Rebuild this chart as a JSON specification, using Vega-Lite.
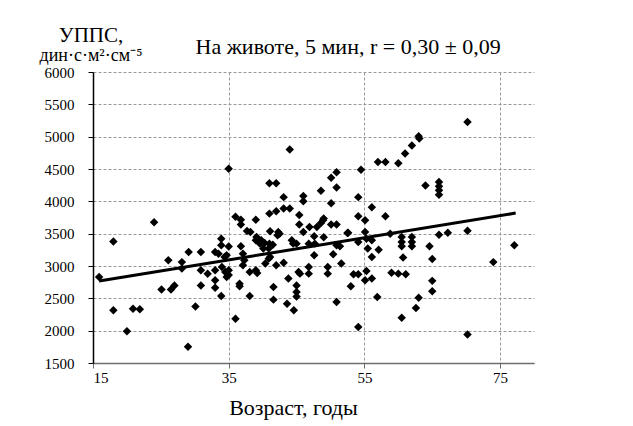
{
  "$schema": "https://vega.github.io/schema/vega-lite/v6.json",
  "width": 441,
  "height": 291,
  "autosize": {"type": "none"},
  "padding": {"left": 93, "top": 72, "right": 99, "bottom": 63},
  "background": "white",
  "config": {
    "font": "Liberation Serif",
    "view": {"stroke": null},
    "axis": {
      "labelFont": "Liberation Serif",
      "titleFont": "Liberation Serif",
      "labelColor": "black",
      "titleColor": "black",
      "titleFontWeight": "normal",
      "gridColor": "#9a9a9a",
      "gridDash": [3, 2],
      "gridWidth": 1,
      "tickColor": "black",
      "tickSize": 5,
      "labelOverlap": false
    }
  },
  "title": {
    "text": "УППС,",
    "subtitle": "дин·с·м²·см⁻⁵",
    "anchor": "start",
    "frame": "group",
    "align": "center",
    "dx": -2,
    "dy": 43,
    "offset": 13,
    "font": "Liberation Serif",
    "fontSize": 21,
    "fontWeight": "normal",
    "color": "black",
    "subtitleFont": "Liberation Serif",
    "subtitleFontSize": 18,
    "subtitleColor": "black",
    "subtitlePadding": 1
  },
  "datasets": {
    "pts": [
      {"age": 15.9, "uppc": 2830}, {"age": 18.0, "uppc": 3380}, {"age": 18.0, "uppc": 2315}, {"age": 20.0, "uppc": 1990},
      {"age": 20.9, "uppc": 2340}, {"age": 21.9, "uppc": 2330}, {"age": 24.0, "uppc": 3675}, {"age": 25.1, "uppc": 2635},
      {"age": 26.1, "uppc": 3090}, {"age": 26.5, "uppc": 2635}, {"age": 27.0, "uppc": 2700}, {"age": 28.1, "uppc": 3060},
      {"age": 28.1, "uppc": 2960}, {"age": 29.0, "uppc": 1750}, {"age": 29.1, "uppc": 3215}, {"age": 30.1, "uppc": 2375},
      {"age": 30.9, "uppc": 3215}, {"age": 30.9, "uppc": 2935}, {"age": 30.9, "uppc": 2700}, {"age": 31.9, "uppc": 2880},
      {"age": 33.0, "uppc": 3215}, {"age": 33.0, "uppc": 2935}, {"age": 33.0, "uppc": 2665}, {"age": 33.0, "uppc": 2780},
      {"age": 33.5, "uppc": 3190}, {"age": 33.9, "uppc": 3420}, {"age": 33.9, "uppc": 3320}, {"age": 33.9, "uppc": 2535},
      {"age": 34.0, "uppc": 2985}, {"age": 34.5, "uppc": 2907}, {"age": 34.7, "uppc": 2830}, {"age": 34.4, "uppc": 3140},
      {"age": 35.0, "uppc": 3300}, {"age": 34.7, "uppc": 3165}, {"age": 35.0, "uppc": 2935}, {"age": 35.0, "uppc": 2860},
      {"age": 35.0, "uppc": 4505}, {"age": 36.0, "uppc": 2185}, {"age": 36.0, "uppc": 3760}, {"age": 36.8, "uppc": 3715},
      {"age": 36.8, "uppc": 3640}, {"age": 36.6, "uppc": 2727}, {"age": 36.6, "uppc": 2686}, {"age": 37.7, "uppc": 3540},
      {"age": 38.1, "uppc": 2536}, {"age": 36.8, "uppc": 3304}, {"age": 37.1, "uppc": 3190}, {"age": 37.1, "uppc": 3010},
      {"age": 37.3, "uppc": 3088}, {"age": 38.1, "uppc": 2907}, {"age": 39.0, "uppc": 2933}, {"age": 39.2, "uppc": 2891},
      {"age": 38.2, "uppc": 3525}, {"age": 39.0, "uppc": 3717}, {"age": 39.0, "uppc": 3397}, {"age": 39.6, "uppc": 3346},
      {"age": 39.1, "uppc": 3450}, {"age": 40.1, "uppc": 3270}, {"age": 40.4, "uppc": 3037}, {"age": 40.9, "uppc": 3114},
      {"age": 41.1, "uppc": 3140}, {"age": 41.0, "uppc": 3346}, {"age": 40.9, "uppc": 3270}, {"age": 41.1, "uppc": 3536},
      {"age": 42.2, "uppc": 3474}, {"age": 42.3, "uppc": 3525}, {"age": 41.0, "uppc": 3810}, {"age": 42.0, "uppc": 3845},
      {"age": 41.0, "uppc": 4280}, {"age": 42.0, "uppc": 4280}, {"age": 43.1, "uppc": 4065}, {"age": 43.1, "uppc": 3890},
      {"age": 44.0, "uppc": 3890}, {"age": 44.0, "uppc": 4800}, {"age": 42.0, "uppc": 3010}, {"age": 43.1, "uppc": 3052},
      {"age": 41.6, "uppc": 2675}, {"age": 41.6, "uppc": 2480}, {"age": 43.8, "uppc": 2805}, {"age": 43.6, "uppc": 2418},
      {"age": 44.6, "uppc": 2315}, {"age": 45.3, "uppc": 2907}, {"age": 45.0, "uppc": 2700}, {"age": 45.0, "uppc": 2598},
      {"age": 45.0, "uppc": 2530}, {"age": 44.3, "uppc": 3397}, {"age": 45.0, "uppc": 3346}, {"age": 45.4, "uppc": 3790},
      {"age": 45.4, "uppc": 3640}, {"age": 46.0, "uppc": 4082}, {"age": 46.0, "uppc": 4000}, {"age": 48.6, "uppc": 4165},
      {"age": 50.1, "uppc": 4366}, {"age": 50.9, "uppc": 4450}, {"age": 50.9, "uppc": 4215}, {"age": 50.1, "uppc": 3970},
      {"age": 46.9, "uppc": 3603}, {"age": 48.0, "uppc": 3603}, {"age": 48.9, "uppc": 3706}, {"age": 48.6, "uppc": 3665},
      {"age": 50.1, "uppc": 3640}, {"age": 50.9, "uppc": 3640}, {"age": 46.0, "uppc": 3525}, {"age": 47.6, "uppc": 3460},
      {"age": 49.0, "uppc": 3445}, {"age": 52.6, "uppc": 3515}, {"age": 55.1, "uppc": 3525}, {"age": 58.8, "uppc": 3500},
      {"age": 54.5, "uppc": 4490}, {"age": 54.1, "uppc": 4065}, {"age": 56.1, "uppc": 3907}, {"age": 58.1, "uppc": 3770},
      {"age": 54.1, "uppc": 3770}, {"age": 55.1, "uppc": 3706}, {"age": 57.0, "uppc": 4608}, {"age": 58.1, "uppc": 4608},
      {"age": 60.0, "uppc": 4590}, {"age": 61.0, "uppc": 4740}, {"age": 62.0, "uppc": 4865}, {"age": 63.0, "uppc": 5005},
      {"age": 63.1, "uppc": 4970}, {"age": 70.2, "uppc": 5225}, {"age": 64.0, "uppc": 4245}, {"age": 66.0, "uppc": 4298},
      {"age": 66.0, "uppc": 4232}, {"age": 66.0, "uppc": 4170}, {"age": 66.0, "uppc": 4103}, {"age": 44.5, "uppc": 3346},
      {"age": 46.8, "uppc": 3346}, {"age": 47.7, "uppc": 3346}, {"age": 52.5, "uppc": 3510}, {"age": 55.3, "uppc": 3423},
      {"age": 54.1, "uppc": 3371}, {"age": 56.1, "uppc": 3397}, {"age": 55.5, "uppc": 3270}, {"age": 57.1, "uppc": 3253},
      {"age": 56.1, "uppc": 3140}, {"age": 60.5, "uppc": 3448}, {"age": 60.5, "uppc": 3371}, {"age": 60.5, "uppc": 3304},
      {"age": 62.0, "uppc": 3448}, {"age": 62.0, "uppc": 3371}, {"age": 62.0, "uppc": 3304}, {"age": 60.7, "uppc": 3130},
      {"age": 50.9, "uppc": 3320}, {"age": 51.4, "uppc": 3304}, {"age": 50.4, "uppc": 3180}, {"age": 47.6, "uppc": 3165},
      {"age": 51.6, "uppc": 3037}, {"age": 46.8, "uppc": 2984}, {"age": 46.8, "uppc": 2882}, {"age": 45.5, "uppc": 2882},
      {"age": 49.6, "uppc": 2984}, {"age": 49.6, "uppc": 2882}, {"age": 53.4, "uppc": 2871}, {"age": 54.1, "uppc": 2871},
      {"age": 55.3, "uppc": 2922}, {"age": 55.1, "uppc": 2779}, {"age": 56.1, "uppc": 2805}, {"age": 59.0, "uppc": 2897},
      {"age": 60.0, "uppc": 2882}, {"age": 61.1, "uppc": 2871}, {"age": 53.0, "uppc": 2686}, {"age": 50.9, "uppc": 2443},
      {"age": 56.9, "uppc": 2520}, {"age": 54.1, "uppc": 2057}, {"age": 60.5, "uppc": 2200}, {"age": 62.6, "uppc": 2350},
      {"age": 63.0, "uppc": 2510}, {"age": 64.6, "uppc": 3305}, {"age": 66.0, "uppc": 3485}, {"age": 67.3, "uppc": 3515},
      {"age": 70.2, "uppc": 3545}, {"age": 77.1, "uppc": 3320}, {"age": 74.0, "uppc": 3060}, {"age": 65.0, "uppc": 3110},
      {"age": 65.0, "uppc": 2770}, {"age": 65.0, "uppc": 2610}, {"age": 70.2, "uppc": 1940}, {"age": 40.3, "uppc": 3355},
      {"age": 41.5, "uppc": 3330}, {"age": 49.0, "uppc": 3733}, {"age": 42.5, "uppc": 3500}, {"age": 39.8, "uppc": 3397}
    ],
    "fit": [
      {"age": 15.9, "uppc": 2767},
      {"age": 77.3, "uppc": 3818}
    ]
  },
  "layer": [
    {
      "data": {"name": "pts"},
      "mark": {"type": "point", "shape": "diamond", "filled": true, "color": "black", "opacity": 1, "size": 72},
      "encoding": {
        "x": {
          "field": "age", "type": "quantitative",
          "scale": {"domain": [15, 80], "nice": false, "zero": false},
          "axis": {
            "values": [15, 35, 55, 75],
            "tickCount": 20,
            "title": "Возраст, годы",
            "titleFontSize": 22,
            "titleX": 200,
            "titleY": 51,
            "titleAlign": "center",
            "titleBaseline": "alphabetic",
            "labelFontSize": 15,
            "labelPadding": 2,
            "labelOverlap": false,
            "domainColor": "#6e6e6e",
            "domainWidth": 1.5,
            "tickColor": "#6e6e6e",
            "grid": true
          }
        },
        "y": {
          "field": "uppc", "type": "quantitative",
          "scale": {"domain": [1500, 6000], "nice": false, "zero": false},
          "axis": {
            "values": [1500, 2000, 2500, 3000, 3500, 4000, 4500, 5000, 5500, 6000],
            "tickCount": 20,
            "format": "d",
            "title": "На животе, 5 мин, r = 0,30 ± 0,09",
            "titleAngle": 0,
            "titleFontSize": 22,
            "titleX": 102,
            "titleY": -19,
            "titleAlign": "left",
            "titleBaseline": "alphabetic",
            "labelFontSize": 15,
            "labelPadding": 14,
            "labelOverlap": false,
            "domainColor": "black",
            "domainWidth": 1.5,
            "grid": true
          }
        }
      }
    },
    {
      "data": {"name": "fit"},
      "mark": {"type": "line", "color": "black", "strokeWidth": 3},
      "encoding": {
        "x": {"field": "age", "type": "quantitative"},
        "y": {"field": "uppc", "type": "quantitative"}
      }
    }
  ]
}
